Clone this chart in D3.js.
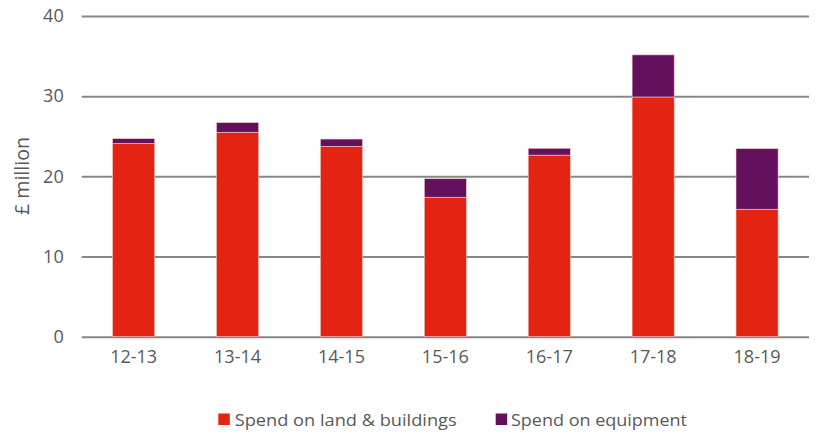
<!DOCTYPE html>
<html>
<head>
<meta charset="utf-8">
<script src="https://cdn.jsdelivr.net/npm/d3@7"></script>
<style>
  html, body { margin: 0; padding: 0; background: #fff; }
  svg { display: block; font-family: "Open Sans", sans-serif; }
</style>
</head>
<body>
<svg id="chart" width="816" height="434"></svg>
<script>
const categories = ["12-13", "13-14", "14-15", "15-16", "16-17", "17-18", "18-19"];
const landBuildings = [24.1, 25.5, 23.75, 17.4, 22.65, 29.9, 15.9];
const equipment = [0.6, 1.2, 0.9, 2.3, 0.85, 5.25, 7.55];
const seriesNames = ["Spend on land & buildings", "Spend on equipment"];
const seriesColors = ["#E32412", "#63105E"];
const yTicks = [0, 10, 20, 30, 40];

const svg = d3.select("#chart");
const margin = { left: 81.7, right: 7, top: 16, bottom: 97.3 };
const W = 816, H = 434;

const x = d3.scaleBand().domain(categories).range([margin.left, W - margin.right]).paddingInner(0.595).paddingOuter(0.2975);
const y = d3.scaleLinear().domain([0, 40]).range([H - margin.bottom, margin.top]);

// gridlines
const yAxis = d3.axisLeft(y).tickValues(yTicks).tickSize(-(W - margin.right - margin.left)).tickPadding(18);
const gy = svg.append("g").attr("transform", `translate(${margin.left},0)`).call(yAxis);
gy.select(".domain").remove();
gy.selectAll(".tick line").attr("stroke", "#878787").attr("stroke-width", 2);
gy.selectAll(".tick text").attr("fill", "#595959").attr("font-size", 18).attr("font-family", "Open Sans, sans-serif");

// stacked data
const rows = categories.map((c, i) => ({ cat: c, land: landBuildings[i], equip: equipment[i] }));
const stack = d3.stack().keys(["land", "equip"]);
const stacked = stack(rows);

svg.append("g").selectAll("g").data(stacked).join("g")
  .attr("fill", (d, i) => seriesColors[i])
  .selectAll("rect").data(d => d).join("rect")
  .attr("x", d => x(d.data.cat))
  .attr("width", x.bandwidth())
  .attr("y", d => y(d[1]))
  .attr("height", d => y(d[0]) - y(d[1]))
  .attr("stroke", "#f4c9c4")
  .attr("stroke-width", 0.6);

// x axis labels
const xAxis = d3.axisBottom(x).tickSize(0).tickPadding(14);
const gx = svg.append("g").attr("transform", `translate(0,${y(0)})`).call(xAxis);
gx.select(".domain").remove();
gx.selectAll(".tick text").attr("fill", "#595959").attr("font-size", 18).attr("font-family", "Open Sans, sans-serif");

// y axis title
svg.append("text")
  .attr("transform", `translate(29,176) rotate(-90)`)
  .attr("text-anchor", "middle")
  .attr("fill", "#595959")
  .attr("font-size", 20)
  .attr("textLength", 78).attr("lengthAdjust", "spacingAndGlyphs")
  .text("£ million");

// legend
const legendItems = [
  { x: 218.3, tx: 234.7, len: 222 },
  { x: 495.7, tx: 511, len: 176 }
];
const lg = svg.append("g");
seriesNames.forEach((name, i) => {
  lg.append("rect").attr("x", legendItems[i].x).attr("y", 413.5).attr("width", 11.5).attr("height", 11.5).attr("fill", seriesColors[i]);
  lg.append("text").attr("x", legendItems[i].tx).attr("y", 425.5)
    .attr("fill", "#595959").attr("font-size", 17)
    .attr("textLength", legendItems[i].len).attr("lengthAdjust", "spacingAndGlyphs")
    .text(name);
});
</script>
</body>
</html>
